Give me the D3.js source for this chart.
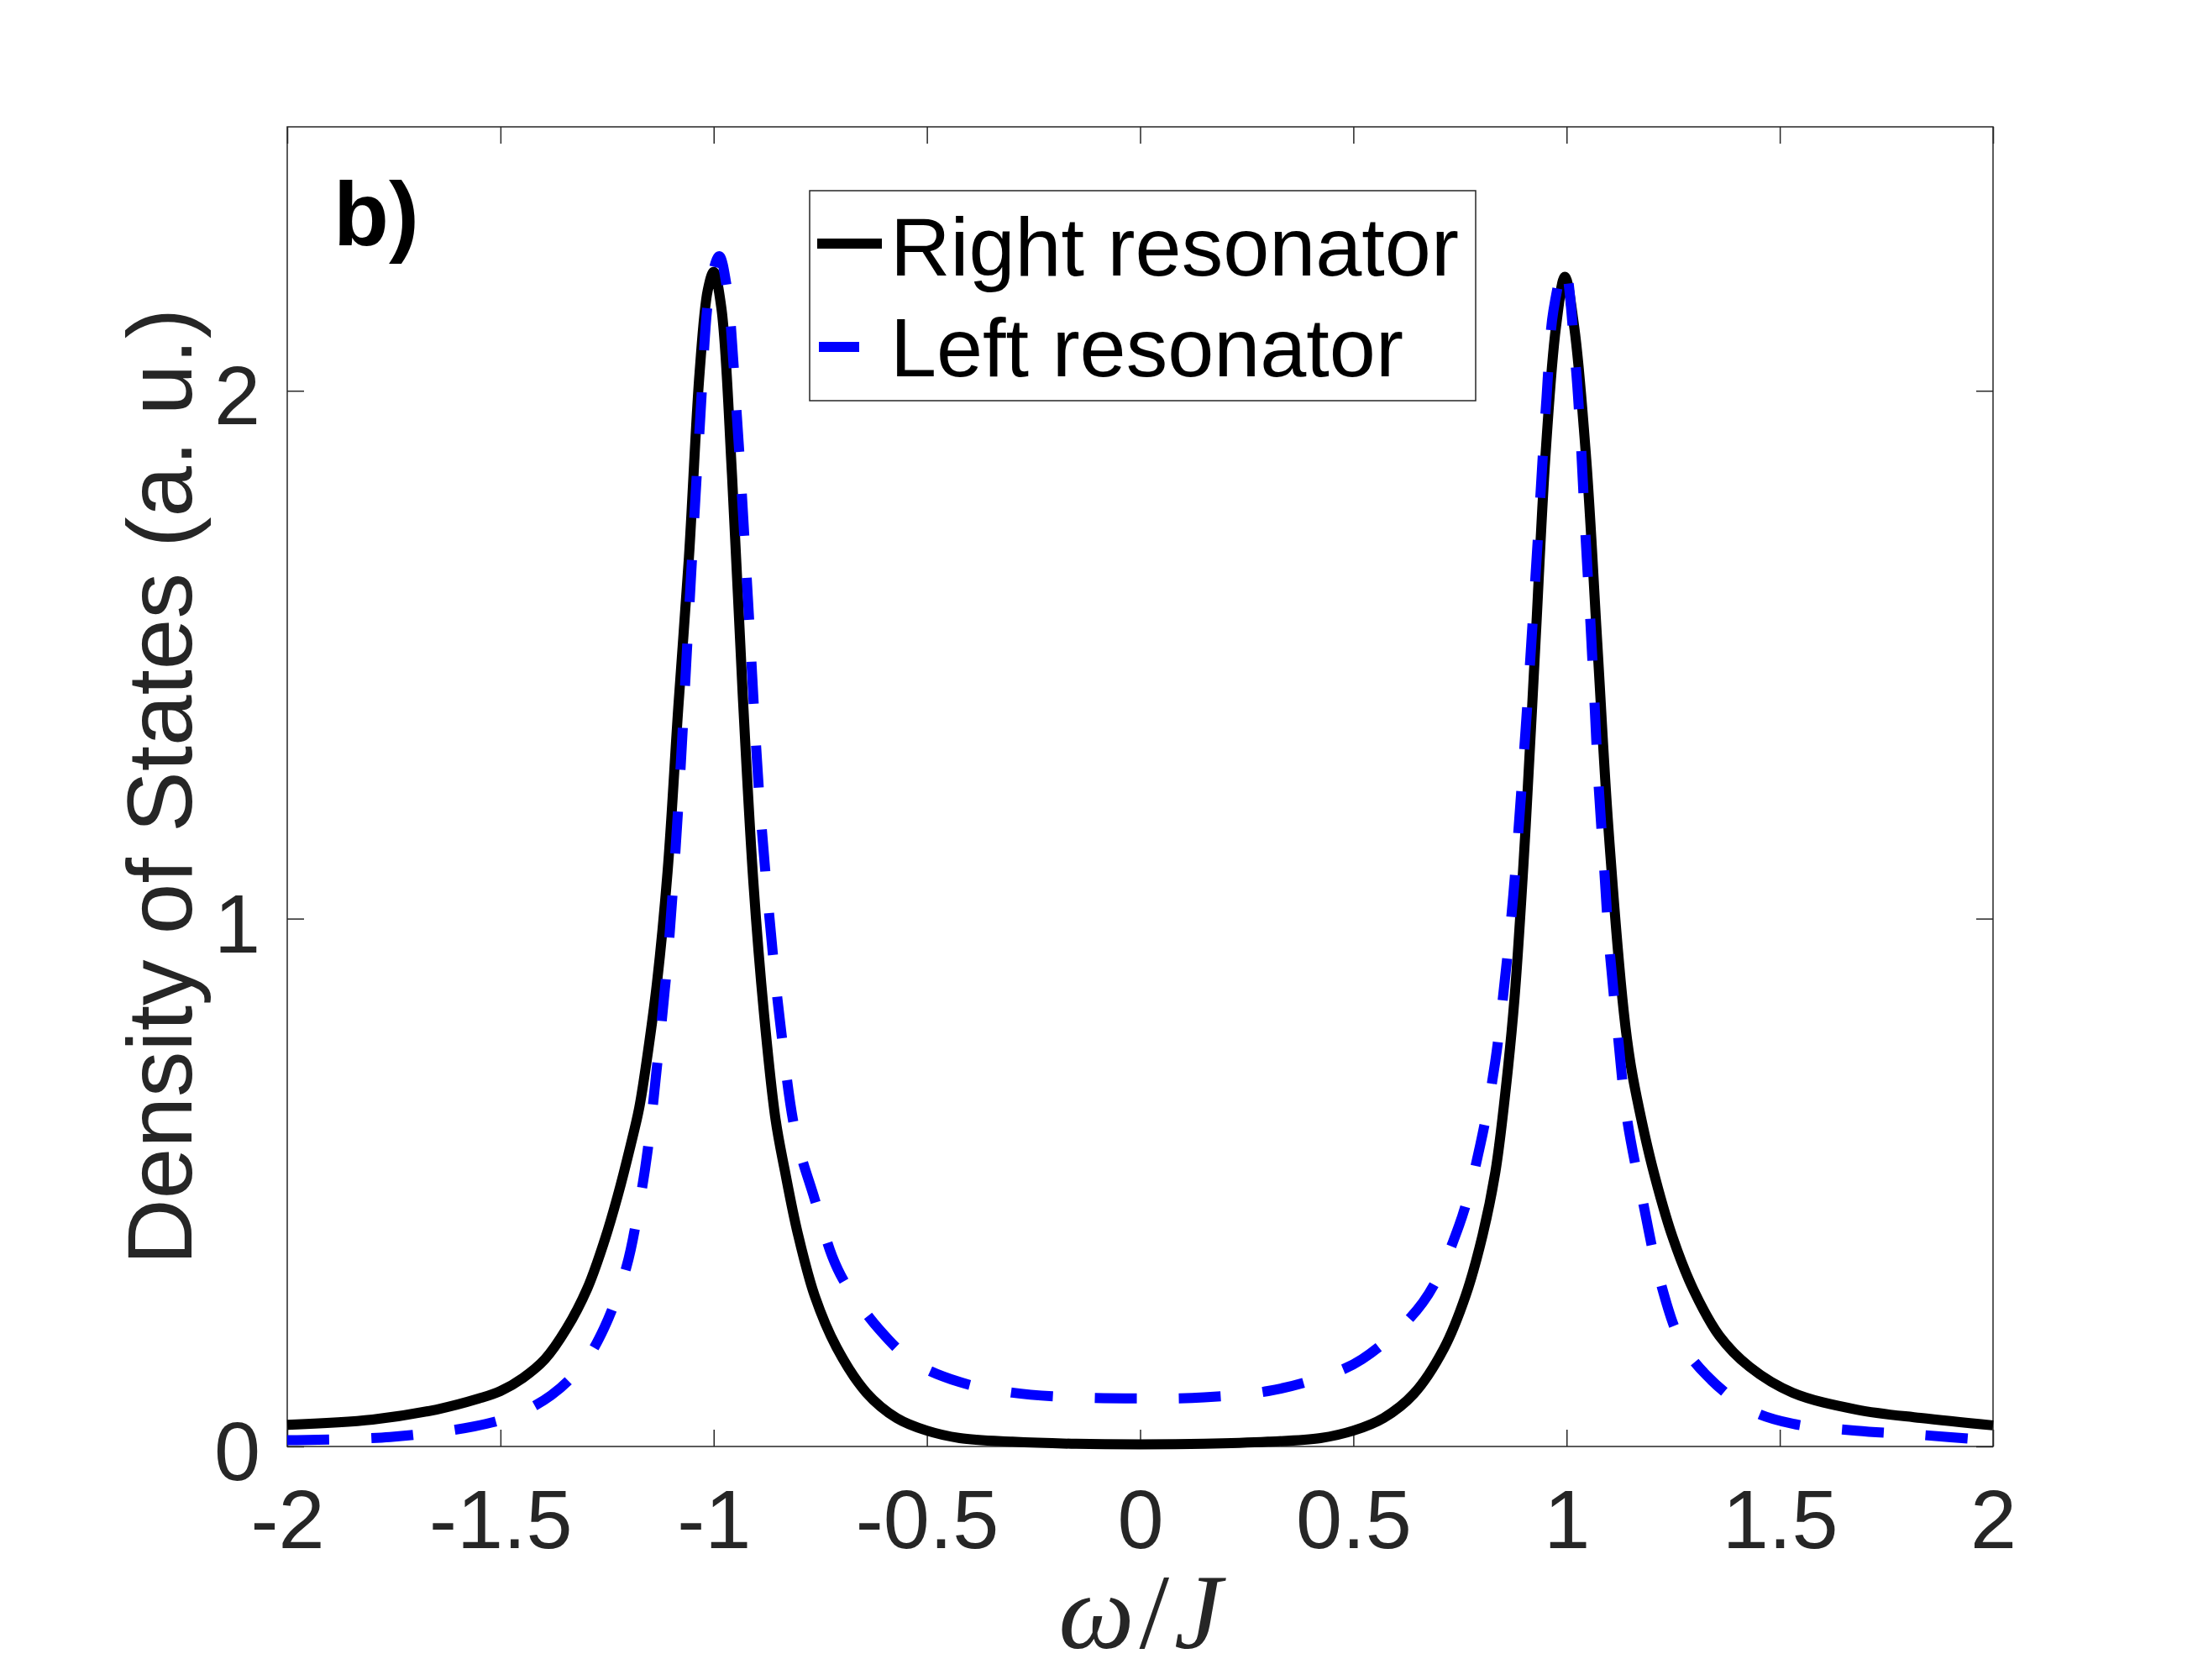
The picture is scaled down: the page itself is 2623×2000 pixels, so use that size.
<!DOCTYPE html>
<html>
<head>
<meta charset="utf-8">
<script src="https://cdn.jsdelivr.net/npm/d3@7"></script>
<style>
  body { margin: 0; background: #fff; }
  .tick text { font-family: "Liberation Sans", Arial, sans-serif; font-size: 99px; fill: #262626; }
  .tick line { stroke: #262626; stroke-width: 1.5; }
  .domain { display: none; }
</style>
</head>
<body>
<script>
// Right resonator (black solid)
var rightOmega = [-2, -1.8, -1.65, -1.55, -1.5, -1.447, -1.396, -1.346, -1.296, -1.256, -1.225, -1.195, -1.175, -1.158,
  -1.133, -1.108, -1.083, -1.058, -1.033, -1.014, -1.0, -0.982, -0.957, -0.932, -0.907, -0.882, -0.855, -0.833, -0.803,
  -0.763, -0.712, -0.642, -0.571, -0.5, -0.423, -0.3, -0.15, 0, 0.15, 0.3, 0.423, 0.5, 0.571, 0.642, 0.712, 0.763, 0.803,
  0.833, 0.855, 0.878, 0.904, 0.927, 0.95, 0.975, 0.996, 1.018, 1.046, 1.072, 1.098, 1.134, 1.15, 1.17, 1.201, 1.248,
  1.298, 1.358, 1.429, 1.53, 1.68, 1.83, 2.0];
var rightDos = [0.041, 0.051, 0.070, 0.091, 0.105, 0.130, 0.165, 0.222, 0.30, 0.39, 0.475, 0.57, 0.64, 0.726,
  0.878, 1.09, 1.40, 1.685, 2.035, 2.19, 2.225, 2.157, 1.84, 1.426, 1.07, 0.82, 0.62, 0.522, 0.404,
  0.285, 0.188, 0.102, 0.054, 0.030, 0.016, 0.009, 0.005, 0.004, 0.005, 0.009, 0.016, 0.030, 0.054, 0.10, 0.185, 0.285, 0.40,
  0.52, 0.66, 0.85, 1.173, 1.522, 1.871, 2.12, 2.216, 2.12, 1.871, 1.522, 1.173, 0.824, 0.725, 0.64, 0.53, 0.398,
  0.296, 0.210, 0.151, 0.102, 0.070, 0.054, 0.040];

// Left resonator (blue dashed)
var leftOmega = [-2, -1.759, -1.562, -1.467, -1.381, -1.306, -1.256, -1.205, -1.175, -1.155, -1.133, -1.108, -1.083, -1.058,
  -1.033, -1.008, -0.987, -0.97, -0.945, -0.92, -0.894, -0.869, -0.844, -0.807, -0.763, -0.722, -0.692, -0.612, -0.531,
  -0.423, -0.3, -0.15, 0, 0.15, 0.3, 0.42, 0.52, 0.663, 0.748, 0.798, 0.832, 0.855, 0.875, 0.904, 0.929, 0.953, 0.969,
  0.995, 1.021, 1.034, 1.044, 1.055, 1.065, 1.075, 1.088, 1.101, 1.12, 1.141, 1.178, 1.218, 1.268, 1.328, 1.429, 1.53,
  1.68, 1.83, 2.0];
var leftDos = [0.012, 0.018, 0.038, 0.059, 0.097, 0.156, 0.226, 0.339, 0.457, 0.56, 0.72, 0.924, 1.213, 1.578,
  1.928, 2.20, 2.255, 2.20, 1.944, 1.61, 1.244, 1.0, 0.802, 0.589, 0.468, 0.36, 0.31, 0.222, 0.16,
  0.122, 0.102, 0.093, 0.091, 0.093, 0.105, 0.13, 0.165, 0.273, 0.419, 0.573, 0.725, 0.882, 1.044, 1.359, 1.673, 1.987, 2.151,
  2.236, 2.051, 1.893, 1.731, 1.575, 1.417, 1.254, 1.097, 0.94, 0.782, 0.625, 0.468, 0.318, 0.199, 0.135, 0.070, 0.043,
  0.030, 0.022, 0.011];

var xTicks = [-2, -1.5, -1, -0.5, 0, 0.5, 1, 1.5, 2];
var yTicks = [0, 1, 2];
var seriesNames = ["Right resonator", "Left resonator"];

var W = 2623, H = 2000;
var plotL = 342, plotR = 2373, plotT = 151, plotB = 1722;

var svg = d3.select("body").append("svg")
    .attr("width", W)
    .attr("height", H);

var xScale = d3.scaleLinear().domain([-2, 2]).range([plotL, plotR]);
var yScale = d3.scaleLinear().domain([0, 2.5]).range([plotB, plotT]);

function fmt(d) { return String(d); }  // plain hyphen like MATLAB

// ticks on all four sides, pointing inward
svg.append("g")
    .attr("transform", "translate(0," + plotB + ")")
    .call(d3.axisBottom(xScale).tickValues(xTicks).tickFormat(fmt).tickSizeInner(-20).tickSizeOuter(0).tickPadding(51));
svg.append("g")
    .attr("transform", "translate(0," + plotT + ")")
    .call(d3.axisTop(xScale).tickValues(xTicks).tickFormat("").tickSizeInner(-20).tickSizeOuter(0));
var yAx = svg.append("g")
    .attr("transform", "translate(" + plotL + ",0)")
    .call(d3.axisLeft(yScale).tickValues(yTicks).tickFormat(fmt).tickSizeInner(-20).tickSizeOuter(0).tickPadding(32));
yAx.selectAll("text").attr("dy", "0.4em");
svg.append("g")
    .attr("transform", "translate(" + plotR + ",0)")
    .call(d3.axisRight(yScale).tickValues(yTicks).tickFormat("").tickSizeInner(-20).tickSizeOuter(0));

// axes box
svg.append("rect")
    .attr("x", plotL).attr("y", plotT)
    .attr("width", plotR - plotL).attr("height", plotB - plotT)
    .attr("fill", "none")
    .attr("stroke", "#262626")
    .attr("stroke-width", 1.5);

var line = d3.line()
    .x(function(d) { return xScale(d[0]); })
    .y(function(d) { return yScale(d[1]); })
    .curve(d3.curveCatmullRom.alpha(0.5));

svg.append("path")
    .datum(d3.zip(rightOmega, rightDos))
    .attr("d", line)
    .attr("fill", "none")
    .attr("stroke", "#000")
    .attr("stroke-width", 12)
    .attr("stroke-linejoin", "round");

svg.append("path")
    .datum(d3.zip(leftOmega, leftDos))
    .attr("d", line)
    .attr("fill", "none")
    .attr("stroke", "#0000ff")
    .attr("stroke-width", 12)
    .attr("stroke-dasharray", "50,50");

// panel label
svg.append("text")
    .attr("x", 397).attr("y", 292)
    .style("font-family", "Liberation Sans, Arial, sans-serif")
    .style("font-weight", "bold")
    .style("font-size", "108px")
    .attr("fill", "#000")
    .text("b)");

// legend
var lg = svg.append("g");
lg.append("rect")
    .attr("x", 964).attr("y", 227)
    .attr("width", 793).attr("height", 250)
    .attr("fill", "#fff")
    .attr("stroke", "#262626")
    .attr("stroke-width", 1.5);
lg.append("line")
    .attr("x1", 973).attr("x2", 1050).attr("y1", 290).attr("y2", 290)
    .attr("stroke", "#000").attr("stroke-width", 12);
lg.append("line")
    .attr("x1", 975).attr("x2", 1023).attr("y1", 413).attr("y2", 413)
    .attr("stroke", "#0000ff").attr("stroke-width", 12);
lg.selectAll(".legtext")
    .data(seriesNames).enter()
    .append("text")
    .attr("x", 1060)
    .attr("y", function(d, i) { return i == 0 ? 328 : 448; })
    .style("font-family", "Liberation Sans, Arial, sans-serif")
    .style("font-size", "99px")
    .attr("fill", "#000")
    .text(function(d) { return d; });

// axis labels
svg.append("text")
    .attr("transform", "translate(228," + (plotT + plotB) / 2 + ") rotate(-90)")
    .style("text-anchor", "middle")
    .style("font-family", "Liberation Sans, Arial, sans-serif")
    .style("font-size", "109px")
    .attr("fill", "#262626")
    .text("Density of States (a. u.)");

var xl = svg.append("text")
    .attr("x", (plotL + plotR) / 2).attr("y", 1962)
    .style("text-anchor", "middle")
    .style("font-family", "Liberation Serif, Times New Roman, serif")
    .style("font-size", "128px")
    .attr("fill", "#262626");
xl.append("tspan").style("font-style", "italic").text("ω");
xl.append("tspan").attr("dx", 6).text("/");
xl.append("tspan").attr("dx", 6).style("font-style", "italic").text("J");
</script>
</body>
</html>
